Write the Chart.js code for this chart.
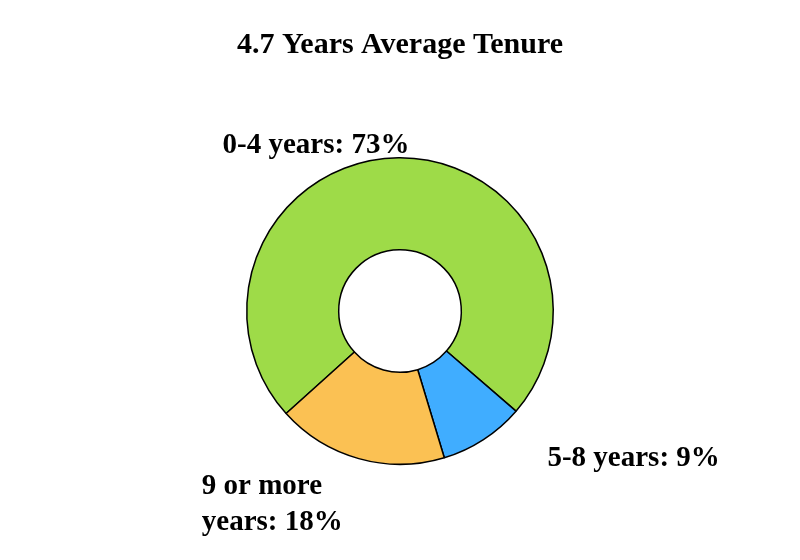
<!DOCTYPE html>
<html>
<head>
<meta charset="utf-8">
<script src="https://cdn.jsdelivr.net/npm/chart.js@4.4.1/dist/chart.umd.min.js"></script>
<style>
  html, body { margin: 0; padding: 0; background: #ffffff; }
  #wrap { width: 800px; height: 560px; position: relative; }
</style>
</head>
<body>
<div id="wrap"><canvas id="c" width="800" height="560"></canvas></div>
<script>
const titleText = '4.7 Years Average Tenure';
const categories = ['0-4 years', '5-8 years', '9 or more years'];
const values = [73, 9, 18];
const colors = ['#9edb48', '#40adff', '#fbc153'];

const FONT = '"Liberation Serif", "Times New Roman", Times, serif';
const LABEL_SIZE = 29;

// per-slice label placement relative to the slice's outer mid point
const labelLayout = [
  { dx: 11, dy: -5, align: 'right', maxWidth: 9999 },
  { dx: 64, dy: 26, align: 'left', maxWidth: 9999 },
  { dx: -157, dy: 35, align: 'left', maxWidth: 175 }
];

function wrap(ctx, text, maxWidth) {
  const words = text.split(' ');
  const lines = [];
  let cur = '';
  for (const w of words) {
    const test = cur ? cur + ' ' + w : w;
    if (cur && ctx.measureText(test).width > maxWidth) {
      lines.push(cur);
      cur = w;
    } else cur = test;
  }
  if (cur) lines.push(cur);
  return lines;
}

const outLabels = {
  id: 'outLabels',
  afterDraw(chart) {
    const ctx = chart.ctx;
    const meta = chart.getDatasetMeta(0);
    ctx.save();
    ctx.font = 'bold ' + LABEL_SIZE + 'px ' + FONT;
    ctx.fillStyle = '#000000';
    ctx.textBaseline = 'alphabetic';
    meta.data.forEach((arc, i) => {
      const p = arc.getProps(['x', 'y', 'startAngle', 'endAngle', 'outerRadius'], true);
      const mid = (p.startAngle + p.endAngle) / 2;
      const ax = p.x + Math.cos(mid) * p.outerRadius;
      const ay = p.y + Math.sin(mid) * p.outerRadius;
      const lay = labelLayout[i];
      const text = categories[i] + ': ' + values[i] + '%';
      const lines = wrap(ctx, text, lay.maxWidth);
      ctx.textAlign = lay.align;
      lines.forEach((ln, k) => {
        ctx.fillText(ln, ax + lay.dx, ay + lay.dy + k * 36);
      });
    });
    ctx.restore();
  }
};

new Chart(document.getElementById('c'), {
  type: 'doughnut',
  data: {
    labels: categories,
    datasets: [{
      data: values,
      backgroundColor: colors,
      borderColor: '#000000',
      borderWidth: 1.5,
      borderAlign: 'center'
    }]
  },
  options: {
    responsive: false,
    animation: false,
    rotation: 228,
    cutout: '40%',
    layout: { padding: { top: 0, bottom: 95, left: 0, right: 0 } },
    plugins: {
      legend: { display: false },
      tooltip: { enabled: false },
      title: {
        display: true,
        text: titleText,
        color: '#000000',
        font: { family: FONT, size: 30, weight: 'bold' },
        padding: { top: 27, bottom: 94 }
      }
    }
  },
  plugins: [outLabels]
});
</script>
</body>
</html>
